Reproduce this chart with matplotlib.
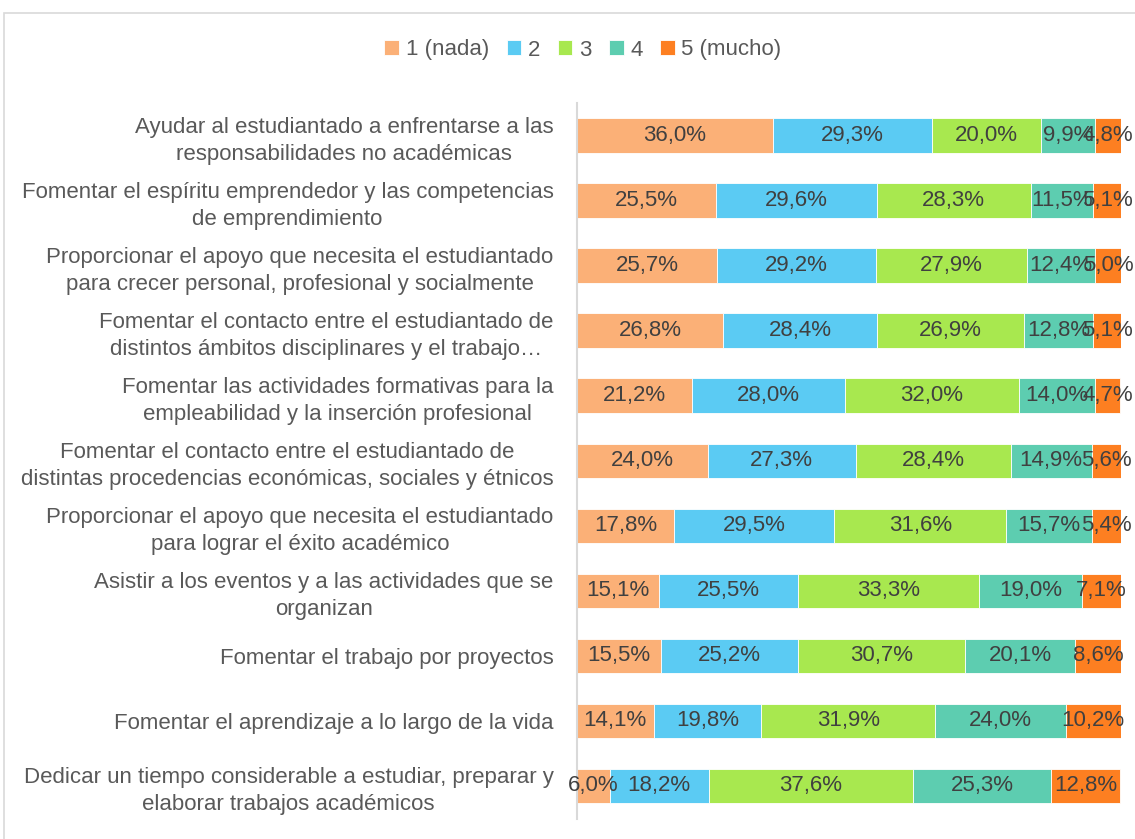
import matplotlib.pyplot as plt
from matplotlib.patches import Rectangle
from matplotlib import font_manager

names = {f.name for f in font_manager.fontManager.ttflist}
font = 'Liberation Sans Narrow' if 'Liberation Sans Narrow' in names else 'Liberation Sans'
plt.rcParams['font.family'] = [font, 'DejaVu Sans']

categories = [
    'Ayudar al estudiantado a enfrentarse a las\nresponsabilidades no académicas',
    'Fomentar el espíritu emprendedor y las competencias\nde emprendimiento',
    'Proporcionar el apoyo que necesita el estudiantado\npara crecer personal, profesional y socialmente',
    'Fomentar el contacto entre el estudiantado de\ndistintos ámbitos disciplinares y el trabajo…',
    'Fomentar las actividades formativas para la\nempleabilidad y la inserción profesional',
    'Fomentar el contacto entre el estudiantado de\ndistintas procedencias económicas, sociales y étnicos',
    'Proporcionar el apoyo que necesita el estudiantado\npara lograr el éxito académico',
    'Asistir a los eventos y a las actividades que se\norganizan',
    'Fomentar el trabajo por proyectos',
    'Fomentar el aprendizaje a lo largo de la vida',
    'Dedicar un tiempo considerable a estudiar, preparar y\nelaborar trabajos académicos',
]
series = ['1 (nada)', '2', '3', '4', '5 (mucho)']
nada = [36.0, 25.5, 25.7, 26.8, 21.2, 24.0, 17.8, 15.1, 15.5, 14.1, 6.0]
dos = [29.3, 29.6, 29.2, 28.4, 28.0, 27.3, 29.5, 25.5, 25.2, 19.8, 18.2]
tres = [20.0, 28.3, 27.9, 26.9, 32.0, 28.4, 31.6, 33.3, 30.7, 31.9, 37.6]
cuatro = [9.9, 11.5, 12.4, 12.8, 14.0, 14.9, 15.7, 19.0, 20.1, 24.0, 25.3]
mucho = [4.8, 5.1, 5.0, 5.1, 4.7, 5.6, 5.4, 7.1, 8.6, 10.2, 12.8]
colors = ['#FBB077', '#5BCBF3', '#A8E84F', '#5DCDB0', '#FD7F21']

fig = plt.figure(figsize=(11.35, 8.39), dpi=100)
ax = fig.add_axes([577 / 1135, 1 - 818.5 / 839, 544 / 1135, (818.5 - 103) / 839])

# light chart-area border
fig.patches.append(Rectangle((4 / 1135, -0.05), 1.2, (839 - 13) / 839 + 0.05,
                             transform=fig.transFigure, fill=False,
                             edgecolor='#D9D9D9', linewidth=1.2))

y = list(range(len(categories)))
left = [0.0] * len(categories)
for name, vals, c in zip(series, [nada, dos, tres, cuatro, mucho], colors):
    bars = ax.barh(y, vals, left=left, height=0.53, color=c, label=name,
                   edgecolor='white', linewidth=0.6)
    labels = [f'{v:.1f}%'.replace('.', ',') for v in vals]
    ax.bar_label(bars, labels=labels, label_type='center', fontsize=16,
                 color='#404040')
    left = [a + b for a, b in zip(left, vals)]

ax.set_xlim(0, 100)
ax.set_ylim(len(categories) - 0.5, -0.5)
ax.set_yticks(y)
ax.set_yticklabels(categories, fontsize=16, color='#595959',
                   multialignment='center', linespacing=1.35)
ax.tick_params(axis='y', length=0, pad=17)
ax.set_xticks([])
for s in ['top', 'right', 'bottom']:
    ax.spines[s].set_visible(False)
ax.spines['left'].set_color('#D9D9D9')
ax.spines['left'].set_linewidth(1.5)

fig.legend(loc='center', bbox_to_anchor=(583 / 1135, 1 - 50 / 839), ncol=5,
           frameon=False, fontsize=16, handlelength=0.65, handleheight=0.65,
           handletextpad=0.3, columnspacing=0.8, labelcolor='#595959')

fig.savefig('out.png', dpi=100)
